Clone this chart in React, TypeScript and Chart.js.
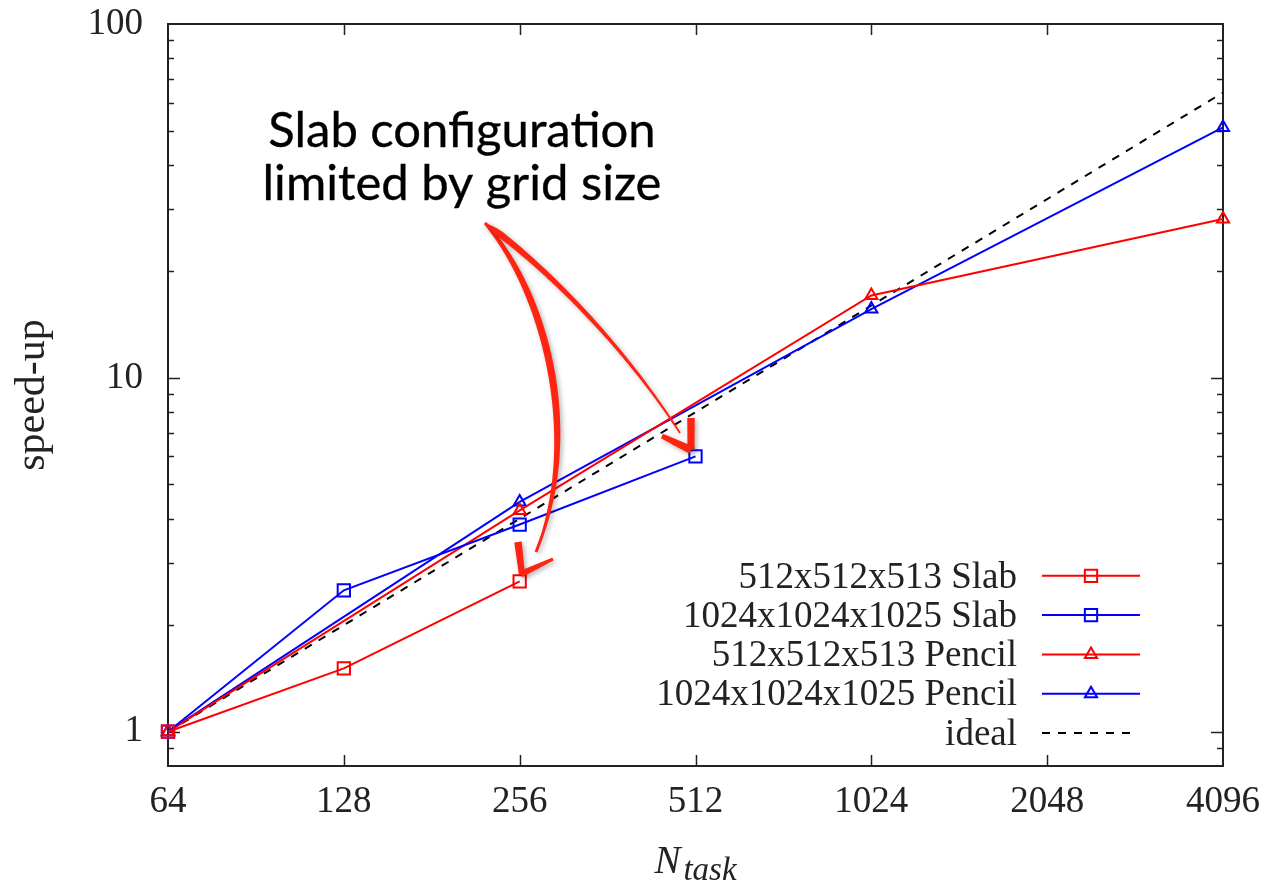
import React, { useEffect, useRef } from 'react';
import { Chart, registerables } from 'chart.js';

Chart.register(...registerables);

// ---------- data ----------
const nTaskTicks = [64, 128, 256, 512, 1024, 2048, 4096];
const speedupTicks = [1, 10, 100];
const speedupMinor = [0.8, 0.9, 2, 3, 4, 5, 6, 7, 8, 9, 20, 30, 40, 50, 60, 70, 80, 90];

const slab512N = [64, 128, 256];
const slab512S = [1, 1.51, 2.66];
const slab1024N = [64, 128, 256, 512];
const slab1024S = [1, 2.51, 3.85, 6.0];
const pencil512N = [64, 256, 1024, 4096];
const pencil512S = [1, 4.22, 17.1, 28.1];
const pencil1024N = [64, 256, 1024, 4096];
const pencil1024S = [1, 4.46, 15.65, 51.0];
const idealN = [64, 4096];
const idealS = [1, 64];

const seriesLabels = [
  '512x512x513 Slab',
  '1024x1024x1025 Slab',
  '512x512x513 Pencil',
  '1024x1024x1025 Pencil',
  'ideal',
];
const annotationLines = ['Slab configuration', 'limited by grid size'];
const yTitle = 'speed-up';
const xTitleMain = 'N';
const xTitleSub = 'task';

// ---------- styles ----------
const RED = '#ff0000';
const BLUE = '#0000ff';
const TEXT = '#222222';
const ARROW = '#ff2412';
const SERIF = '"Liberation Serif", "DejaVu Serif", serif';

const zip = (xs: number[], ys: number[]) => xs.map((x, i) => ({ x, y: ys[i] }));

type P = [number, number];

function taper(ctx: CanvasRenderingContext2D, p0: P, p1: P, p2: P, p3: P, w: (t: number) => number, n = 80) {
  const left: P[] = [];
  const right: P[] = [];
  for (let i = 0; i <= n; i++) {
    const t = i / n;
    const mt = 1 - t;
    const x = mt * mt * mt * p0[0] + 3 * mt * mt * t * p1[0] + 3 * mt * t * t * p2[0] + t * t * t * p3[0];
    const y = mt * mt * mt * p0[1] + 3 * mt * mt * t * p1[1] + 3 * mt * t * t * p2[1] + t * t * t * p3[1];
    const dx = 3 * mt * mt * (p1[0] - p0[0]) + 6 * mt * t * (p2[0] - p1[0]) + 3 * t * t * (p3[0] - p2[0]);
    const dy = 3 * mt * mt * (p1[1] - p0[1]) + 6 * mt * t * (p2[1] - p1[1]) + 3 * t * t * (p3[1] - p2[1]);
    const len = Math.hypot(dx, dy) || 1;
    const nx = -dy / len;
    const ny = dx / len;
    const hw = w(t) / 2;
    left.push([x + nx * hw, y + ny * hw]);
    right.push([x - nx * hw, y - ny * hw]);
  }
  ctx.beginPath();
  ctx.moveTo(left[0][0], left[0][1]);
  for (const p of left) ctx.lineTo(p[0], p[1]);
  for (let i = right.length - 1; i >= 0; i--) ctx.lineTo(right[i][0], right[i][1]);
  ctx.closePath();
  ctx.fill();
}

function straight(ctx: CanvasRenderingContext2D, a: P, b: P, w: (t: number) => number) {
  const p1: P = [a[0] + (b[0] - a[0]) / 3, a[1] + (b[1] - a[1]) / 3];
  const p2: P = [a[0] + (2 * (b[0] - a[0])) / 3, a[1] + (2 * (b[1] - a[1])) / 3];
  taper(ctx, a, p1, p2, b, w, 20);
}

function drawMarker(ctx: CanvasRenderingContext2D, style: string, x: number, y: number, r: number, color: string) {
  ctx.save();
  ctx.strokeStyle = color;
  ctx.lineWidth = 2;
  ctx.setLineDash([]);
  ctx.beginPath();
  if (style === 'rect') {
    const s = Math.SQRT1_2 * r;
    ctx.rect(x - s, y - s, 2 * s, 2 * s);
  } else if (style === 'triangle') {
    for (let k = 0; k < 3; k++) {
      const a = (k * 2 * Math.PI) / 3;
      const px = x + Math.sin(a) * r;
      const py = y - Math.cos(a) * r;
      if (k === 0) ctx.moveTo(px, py);
      else ctx.lineTo(px, py);
    }
    ctx.closePath();
  }
  ctx.stroke();
  ctx.restore();
}

const framePlugin = {
  id: 'gnuplotFrame',
  beforeDatasetsDraw(chart: any) {
    const { ctx, chartArea: a, scales } = chart;
    ctx.save();
    ctx.strokeStyle = TEXT;
    ctx.lineWidth = 2;
    ctx.strokeRect(a.left, a.top, a.right - a.left, a.bottom - a.top);
    ctx.lineWidth = 1.5;
    ctx.beginPath();
    const y = scales.y;
    const x = scales.x;
    for (const v of speedupTicks) {
      const py = Math.round(y.getPixelForValue(v)) + 0.5;
      if (py <= a.top + 1 || py >= a.bottom - 1) continue;
      ctx.moveTo(a.left, py); ctx.lineTo(a.left + 12, py);
      ctx.moveTo(a.right, py); ctx.lineTo(a.right - 12, py);
    }
    for (const v of speedupMinor) {
      const py = Math.round(y.getPixelForValue(v)) + 0.5;
      if (py <= a.top + 1 || py >= a.bottom - 1) continue;
      ctx.moveTo(a.left, py); ctx.lineTo(a.left + 6, py);
      ctx.moveTo(a.right, py); ctx.lineTo(a.right - 6, py);
    }
    for (const v of nTaskTicks) {
      const px = Math.round(x.getPixelForValue(v)) + 0.5;
      if (px <= a.left + 1 || px >= a.right - 1) continue;
      ctx.moveTo(px, a.bottom); ctx.lineTo(px, a.bottom - 11);
      ctx.moveTo(px, a.top); ctx.lineTo(px, a.top + 11);
    }
    ctx.stroke();
    ctx.restore();
  },
};

const legendPlugin = {
  id: 'insideLegend',
  afterDatasetsDraw(chart: any) {
    const { ctx, chartArea: a } = chart;
    const ds = chart.data.datasets;
    const textRight = a.right - 206;
    const lineL = a.right - 181;
    const lineR = a.right - 83;
    const rowH = 39.3;
    const lastY = a.bottom - 33;
    ctx.save();
    ctx.font = `37px ${SERIF}`;
    ctx.textAlign = 'right';
    ctx.textBaseline = 'middle';
    ds.forEach((d: any, i: number) => {
      const yy = lastY - (ds.length - 1 - i) * rowH;
      ctx.fillStyle = TEXT;
      ctx.fillText(d.label, textRight, yy + 2);
      ctx.strokeStyle = d.borderColor;
      ctx.lineWidth = 2;
      ctx.setLineDash(d.borderDash || []);
      ctx.beginPath();
      ctx.moveTo(lineL, yy);
      ctx.lineTo(d.borderDash ? lineR - 10 : lineR, yy);
      ctx.stroke();
      ctx.setLineDash([]);
      if (d.pointRadius > 0) drawMarker(ctx, d.pointStyle, (lineL + lineR) / 2, yy, d.pointRadius, d.borderColor);
    });
    ctx.restore();
  },
};

const annotationPlugin = {
  id: 'annotations',
  afterDraw(chart: any) {
    const { ctx, chartArea: a } = chart;
    ctx.save();
    // axis titles
    ctx.fillStyle = TEXT;
    ctx.font = `42px ${SERIF}`;
    ctx.textAlign = 'center';
    ctx.textBaseline = 'alphabetic';
    ctx.save();
    ctx.translate(44, (a.top + a.bottom) / 2);
    ctx.rotate(-Math.PI / 2);
    ctx.fillText(yTitle, 0, 0);
    ctx.restore();

    ctx.textAlign = 'left';
    const mainFont = `italic 39px ${SERIF}`;
    const subFont = `italic 33px ${SERIF}`;
    ctx.font = mainFont;
    const wMain = ctx.measureText(xTitleMain).width;
    ctx.font = subFont;
    const wSub = ctx.measureText(xTitleSub).width;
    const startX = (a.left + a.right) / 2 - (wMain + 3 + wSub) / 2;
    ctx.font = mainFont;
    ctx.fillText(xTitleMain, startX, 873);
    ctx.font = subFont;
    ctx.fillText(xTitleSub, startX + wMain + 3, 880);

    // hand-drawn arrows
    ctx.fillStyle = ARROW;
    ctx.shadowColor = 'rgba(0,0,0,0.3)';
    ctx.shadowBlur = 5;
    ctx.shadowOffsetX = 2;
    ctx.shadowOffsetY = 2;
    const origin: P = [485, 223];
    // long curved arrow to 512^3 slab
    taper(ctx, origin, [548, 295], [582, 440], [536, 552], (t) => 1.5 + 5 * Math.sin(Math.PI * Math.min(1, 0.1 + t * 0.95)) + 1.5 * t);
    // arrow to 1024^3 slab
    taper(ctx, origin, [540, 262], [620, 340], [680, 433], (t) => (t < 0.08 ? 1 + t * 70 : 6.6 * (1 - 0.8 * (t - 0.08))));
    // heads
    straight(ctx, [518, 542], [522, 575], (t) => 7.5 - 1.5 * t);
    straight(ctx, [521, 574], [553, 559], (t) => 6.5 - 3.5 * t);
    straight(ctx, [691, 418], [691, 450], (t) => 7.5 - 0.5 * t);
    straight(ctx, [662, 436], [691, 450], (t) => 5 + 3 * t);

    // annotation text
    ctx.shadowColor = 'rgba(0,0,0,0)';
    ctx.shadowBlur = 0;
    ctx.shadowOffsetX = 0;
    ctx.shadowOffsetY = 0;
    ctx.fillStyle = '#000';
    ctx.strokeStyle = '#000';
    ctx.lineWidth = 0.35;
    ctx.font = `49px Lato, "Open Sans", sans-serif`;
    ctx.textAlign = 'center';
    ctx.fillText(annotationLines[0], 462, 147);
    ctx.strokeText(annotationLines[0], 462, 147);
    ctx.fillText(annotationLines[1], 462, 200);
    ctx.strokeText(annotationLines[1], 462, 200);
    ctx.restore();
  },
};

export default function App() {
  const ref = useRef<HTMLCanvasElement | null>(null);
  useEffect(() => {
    if (!ref.current) return;
    const tickFont = { family: SERIF, size: 37 };
    const base = {
      borderWidth: 2,
      pointBorderWidth: 2,
      pointBackgroundColor: 'rgba(0,0,0,0)',
      backgroundColor: 'rgba(0,0,0,0)',
      tension: 0,
      clip: false as any,
      fill: false,
    };
    const chart = new Chart(ref.current, {
      type: 'line',
      data: {
        datasets: [
          { ...base, label: seriesLabels[0], data: zip(slab512N, slab512S), borderColor: RED, pointBorderColor: RED, pointStyle: 'rect', pointRadius: 8.7 },
          { ...base, label: seriesLabels[1], data: zip(slab1024N, slab1024S), borderColor: BLUE, pointBorderColor: BLUE, pointStyle: 'rect', pointRadius: 8.7 },
          { ...base, label: seriesLabels[2], data: zip(pencil512N, pencil512S), borderColor: RED, pointBorderColor: RED, pointStyle: 'triangle', pointRadius: 7 },
          { ...base, label: seriesLabels[3], data: zip(pencil1024N, pencil1024S), borderColor: BLUE, pointBorderColor: BLUE, pointStyle: 'triangle', pointRadius: 7 },
          { ...base, label: seriesLabels[4], data: zip(idealN, idealS), borderColor: '#000000', borderDash: [8, 8], pointRadius: 0 },
        ] as any,
      },
      options: {
        animation: false,
        responsive: false,
        events: [],
        layout: { padding: { top: 24, right: 41, left: 0, bottom: 0 } },
        plugins: { legend: { display: false }, tooltip: { enabled: false } },
        scales: {
          x: {
            type: 'logarithmic',
            min: 64,
            max: 4096,
            afterBuildTicks: (s: any) => {
              s.ticks = nTaskTicks.map((v) => ({ value: v }));
            },
            afterFit: (s: any) => {
              s.height = 119;
              s.paddingLeft = 0;
              s.paddingRight = 0;
            },
            ticks: { callback: (v: any) => String(v), font: tickFont, color: TEXT, padding: 14, autoSkip: false, maxRotation: 0 },
            grid: { display: false, drawTicks: false },
            border: { display: false },
          },
          y: {
            type: 'logarithmic',
            min: 0.8,
            max: 100,
            afterBuildTicks: (s: any) => {
              s.ticks = speedupTicks.map((v) => ({ value: v }));
            },
            afterFit: (s: any) => {
              s.width = 168;
              s.paddingTop = 0;
              s.paddingBottom = 0;
            },
            ticks: { callback: (v: any) => String(v), font: tickFont, color: TEXT, padding: 25, autoSkip: false },
            grid: { display: false, drawTicks: false },
            border: { display: false },
          },
        } as any,
      },
      plugins: [framePlugin, legendPlugin, annotationPlugin],
    });
    return () => chart.destroy();
  }, []);
  return (
    <div style={{ position: 'fixed', left: 0, top: 0, width: 1264, height: 885, background: '#fff' }}>
      <canvas ref={ref} width={1264} height={885} style={{ width: 1264, height: 885 }} />
    </div>
  );
}
